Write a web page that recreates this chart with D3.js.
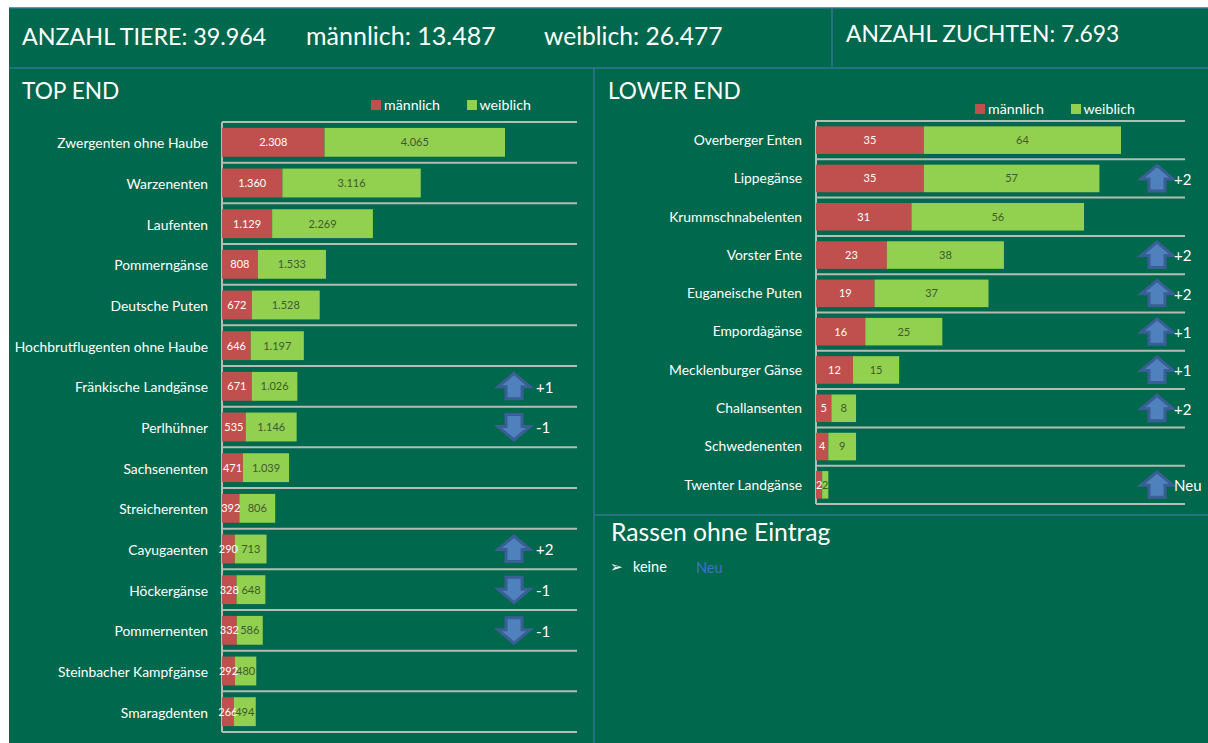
<!DOCTYPE html>
<html lang="de">

<head>
    <meta charset="UTF-8" />
    <title>Anzahl Tiere</title>
    <script src="https://cdn.jsdelivr.net/npm/d3@7"></script>
    <style>
        html, body { margin: 0; padding: 0; background: #fff; }
        svg { display: block; }
        text { font-family: Lato, "Open Sans", sans-serif; fill: #fff; }
    </style>
</head>

<body>
    <svg width="1208" height="743"></svg>
    <script>
        // top end
        const topNames = ["Zwergenten ohne Haube", "Warzenenten", "Laufenten", "Pommerngänse", "Deutsche Puten",
            "Hochbrutflugenten ohne Haube", "Fränkische Landgänse", "Perlhühner", "Sachsenenten", "Streicherenten",
            "Cayugaenten", "Höckergänse", "Pommernenten", "Steinbacher Kampfgänse", "Smaragdenten"];
        const topMale = [2308, 1360, 1129, 808, 672, 646, 671, 535, 471, 392, 290, 328, 332, 292, 266];
        const topFemale = [4065, 3116, 2269, 1533, 1528, 1197, 1026, 1146, 1039, 806, 713, 648, 586, 480, 494];
        const topMoves = [null, null, null, null, null, null, "+1", "-1", null, null, "+2", "-1", "-1", null, null];

        // lower end
        const lowNames = ["Overberger Enten", "Lippegänse", "Krummschnabelenten", "Vorster Ente", "Euganeische Puten",
            "Empordàgänse", "Mecklenburger Gänse", "Challansenten", "Schwedenenten", "Twenter Landgänse"];
        const lowMale = [35, 35, 31, 23, 19, 16, 12, 5, 4, 2];
        const lowFemale = [64, 57, 56, 38, 37, 25, 15, 8, 9, 2];
        const lowMoves = [null, "+2", null, "+2", "+2", "+1", "+1", "+2", null, "Neu"];

        const green = "#00684c", rule = "#2f7593", axisGrey = "#b4bcb4";
        const red = "#c0504d", lime = "#92d050";
        const fmt = n => d3.format(",")(n).replace(/,/g, ".");

        const svg = d3.select("svg");

        svg.append("rect").attr("x", 9).attr("y", 8).attr("width", 1199).attr("height", 735).attr("fill", green);

        // panel dividers
        const dividers = [[9, 68, 1208, 68], [594, 68, 594, 743], [832, 8, 832, 68], [594, 515, 1208, 515], [9, 8, 1208, 8]];
        svg.selectAll("line.rule").data(dividers).join("line").attr("class", "rule")
            .attr("x1", d => d[0]).attr("y1", d => d[1]).attr("x2", d => d[2]).attr("y2", d => d[3])
            .attr("stroke", rule).attr("stroke-width", 1.5);

        function label(x, y, s, size, color) {
            return svg.append("text").attr("x", x).attr("y", y).attr("font-size", size)
                .style("fill", color || "#fff").text(s);
        }

        label(22, 45, "ANZAHL TIERE: 39.964", 23.3);
        label(306, 45, "männlich: 13.487", 25);
        label(544, 45, "weiblich: 26.477", 24.6);
        label(846, 42, "ANZAHL ZUCHTEN: 7.693", 22.8);
        label(22, 99, "TOP END", 22.7);
        label(608, 99, "LOWER END", 22.6);
        label(611, 541, "Rassen ohne Eintrag", 24.7);
        svg.append("text").attr("x", 610).attr("y", 572).attr("font-size", 15)
            .style("font-family", "DejaVu Sans").text("➢");
        label(633, 572, "keine", 14.5);
        label(696, 573, "Neu", 14.5, "#4472c4");

        function legend(xRed, xGreen, y) {
            svg.append("rect").attr("x", xRed).attr("y", y - 5).attr("width", 10).attr("height", 10).attr("fill", red);
            label(xRed + 13, y + 5, "männlich", 14.2);
            svg.append("rect").attr("x", xGreen).attr("y", y - 5).attr("width", 10).attr("height", 10).attr("fill", lime);
            label(xGreen + 12.5, y + 5, "weiblich", 14.2);
        }
        legend(371, 467, 105);
        legend(975, 1071, 109);

        // one stacked bar chart, used for both panels
        function chart(o) {
            const x = d3.scaleLinear().domain([0, o.max]).range([o.left, o.right]);
            const y = d3.scaleBand().domain(o.names).range([o.top, o.bottom]).paddingInner(o.pad).paddingOuter(o.pad / 2);
            const rows = o.names.map((name, i) => ({ name, m: o.male[i], f: o.female[i], move: o.moves[i] }));
            const g = svg.append("g");

            // separators between the bars
            const step = y.step();
            const seps = d3.range(o.names.length + 1).map(i => o.top + i * step);
            g.selectAll("line.sep").data(seps).join("line").attr("class", "sep")
                .attr("x1", o.left).attr("x2", o.lineEnd).attr("y1", d => d).attr("y2", d => d)
                .attr("stroke", axisGrey).attr("stroke-width", 2);
            g.append("line").attr("x1", o.left).attr("x2", o.left).attr("y1", o.top).attr("y2", o.bottom)
                .attr("stroke", axisGrey).attr("stroke-width", 2);

            g.selectAll("rect.m").data(rows).join("rect").attr("class", "m")
                .attr("x", x(0)).attr("y", d => y(d.name)).attr("height", y.bandwidth())
                .attr("width", d => x(d.m) - x(0)).attr("fill", red);
            g.selectAll("rect.f").data(rows).join("rect").attr("class", "f")
                .attr("x", d => x(d.m)).attr("y", d => y(d.name)).attr("height", y.bandwidth())
                .attr("width", d => x(d.m + d.f) - x(d.m)).attr("fill", lime);

            g.selectAll("text.cat").data(rows).join("text").attr("class", "cat")
                .attr("x", o.left - 14).attr("y", d => y(d.name) + y.bandwidth() / 2 + o.catDy)
                .attr("dy", "0.35em").attr("text-anchor", "end").attr("font-size", 13.85).text(d => d.name);

            g.selectAll("text.mv").data(rows).join("text").attr("class", "mv")
                .attr("x", d => (x(0) + x(d.m)) / 2).attr("y", d => y(d.name) + y.bandwidth() / 2)
                .attr("dy", "0.35em").attr("text-anchor", "middle").attr("font-size", 11).text(d => fmt(d.m));
            g.selectAll("text.fv").data(rows).join("text").attr("class", "fv")
                .attr("x", d => (x(d.m) + x(d.m + d.f)) / 2).attr("y", d => y(d.name) + y.bandwidth() / 2)
                .attr("dy", "0.35em").attr("text-anchor", "middle").attr("font-size", 11)
                .style("fill", "#3f5a2c").text(d => fmt(d.f));

            // rank change arrows
            const arrow = "M0,-13L16,0.5L8,0.5L8,12.5L-8,12.5L-8,0.5L-16,0.5Z";
            const moved = rows.filter(d => d.move);
            g.selectAll("path.arrow").data(moved).join("path").attr("class", "arrow")
                .attr("d", arrow)
                .attr("transform", d => `translate(${o.arrowX},${y(d.name) + y.bandwidth() / 2})` + (d.move[0] === "-" ? " scale(1,-1)" : ""))
                .attr("fill", "#4f81bd").attr("stroke", "#3a5f96").attr("stroke-width", 3);
            g.selectAll("text.move").data(moved).join("text").attr("class", "move")
                .attr("x", o.arrowX + o.moveDx).attr("y", d => y(d.name) + y.bandwidth() / 2 + 1)
                .attr("dy", "0.35em").attr("font-size", 15).text(d => d.move);
        }

        chart({ names: topNames, male: topMale, female: topFemale, moves: topMoves, max: 6373,
            left: 222, right: 505, lineEnd: 577, top: 122, bottom: 732, pad: 0.29, arrowX: 514, moveDx: 22, catDy: 1 });
        chart({ names: lowNames, male: lowMale, female: lowFemale, moves: lowMoves, max: 99,
            left: 816, right: 1121, lineEnd: 1185, top: 121, bottom: 504, pad: 0.28, arrowX: 1157, moveDx: 17, catDy: 0 });
    </script>
</body>

</html>
